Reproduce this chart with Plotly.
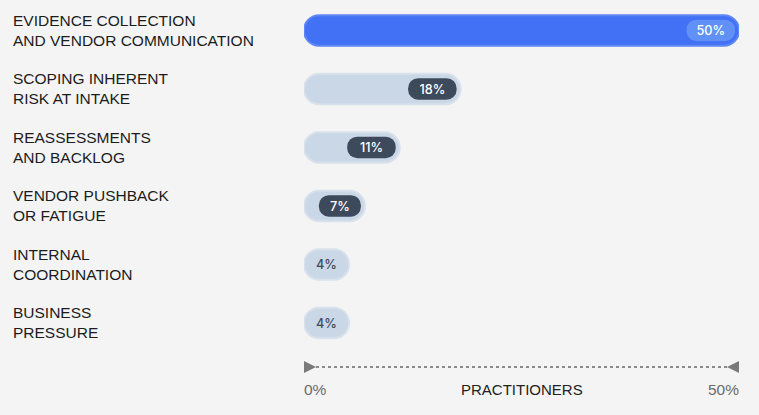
import plotly.graph_objects as go

# ---- data ----
categories = [
    "EVIDENCE COLLECTION\nAND VENDOR COMMUNICATION",
    "SCOPING INHERENT\nRISK AT INTAKE",
    "REASSESSMENTS\nAND BACKLOG",
    "VENDOR PUSHBACK\nOR FATIGUE",
    "INTERNAL\nCOORDINATION",
    "BUSINESS\nPRESSURE",
]
values = [50, 18, 11, 7, 4, 4]
axis_ticks = [0, 50]
axis_tick_labels = ["0%", "50%"]
axis_title = "PRACTITIONERS"

# ---- styling ----
W, H = 759, 415
ML, MR = 304, 20
plot_w = W - ML - MR
x_max = 50
px = x_max / plot_w  # data units per pixel
BG = "#f4f4f4"
BLUE = "#4271f5"
BLUE_LINE = "#5f86f5"
BLUE_BADGE = "#6191f6"
GREY = "#cad7e6"
GREY_LINE = "#d8e1ec"
DARK = "#3d4a5c"
FONT = "Liberation Sans, Arial, sans-serif"
BADGE_FONT = "Inter, sans-serif"

n = len(categories)
ypos = list(range(n))
labels = [f"{v}%" for v in values]

min_len = 45 * px
disp = [max(v, min_len) for v in values]

bar_colors = [BLUE if i == 0 else GREY for i in range(n)]
line_colors = [BLUE_LINE if i == 0 else GREY_LINE for i in range(n)]

badge_base, badge_len, badge_text, badge_col = [], [], [], []
plain_text = []
for i, (d, lab) in enumerate(zip(disp, labels)):
    bw = (29 + 6.5 * len(lab)) * px
    if d >= bw + 12 * px:
        right = d - 4 * px
        badge_base.append(right - bw)
        badge_len.append(bw)
        badge_text.append(lab)
        badge_col.append(BLUE_BADGE if i == 0 else DARK)
        plain_text.append("")
    else:
        badge_base.append(0)
        badge_len.append(0)
        badge_text.append("")
        badge_col.append("rgba(0,0,0,0)")
        plain_text.append(lab)

fig = go.Figure()
fig.add_trace(go.Bar(
    y=ypos, x=disp, base=0, orientation="h", width=0.52,
    marker=dict(color=bar_colors, cornerradius=15,
                line=dict(color=line_colors, width=2)),
    text=plain_text, textposition="inside", insidetextanchor="middle",
    textfont=dict(color=DARK, size=13, family=BADGE_FONT, weight=500),
    textangle=0, hoverinfo="skip", showlegend=False,
))
fig.add_trace(go.Bar(
    y=ypos, x=badge_len, base=badge_base, orientation="h", width=0.37,
    marker=dict(color=badge_col, cornerradius=11, line=dict(width=0)),
    text=badge_text, textposition="inside", insidetextanchor="middle",
    textfont=dict(color="white", size=13, family=BADGE_FONT, weight=500),
    textangle=0, hoverinfo="skip", showlegend=False,
))

# axis line (dotted) with arrow heads
axis_y = 5.752
fig.add_trace(go.Scatter(
    x=[axis_ticks[0], axis_ticks[-1]], y=[axis_y, axis_y], mode="lines",
    line=dict(color="#8a8a8a", width=2, dash="dot"),
    hoverinfo="skip", showlegend=False, cliponaxis=False,
))
tri = 12
fig.add_shape(type="path", xref="x", yref="y", xsizemode="pixel", ysizemode="pixel",
              xanchor=axis_ticks[0], yanchor=axis_y,
              path=f"M 0 {-tri/2} L {tri} 0 L 0 {tri/2} Z",
              fillcolor="#7a7a7a", line=dict(width=0))
fig.add_shape(type="path", xref="x", yref="y", xsizemode="pixel", ysizemode="pixel",
              xanchor=axis_ticks[-1], yanchor=axis_y,
              path=f"M 0 {-tri/2} L {-tri} 0 L 0 {tri/2} Z",
              fillcolor="#7a7a7a", line=dict(width=0))

ann = []
for i, c in enumerate(categories):
    ann.append(dict(
        text=c.replace("\n", "<br>"), xref="paper", yref="y",
        x=(13 - ML) / plot_w, y=i, xanchor="left", yanchor="middle",
        align="left", showarrow=False, xshift=-2,
        font=dict(family=FONT, size=15.5, color="#1c1c1c"),
    ))
label_y = 6.145
ann.append(dict(text=axis_tick_labels[0], xref="x", yref="y", x=axis_ticks[0], y=label_y,
                xanchor="left", yanchor="middle", showarrow=False, xshift=-2,
                font=dict(family=FONT, size=15.5, color="#6b6b6b")))
ann.append(dict(text=axis_tick_labels[-1], xref="x", yref="y", x=axis_ticks[-1], y=label_y,
                xanchor="right", yanchor="middle", showarrow=False, xshift=2,
                font=dict(family=FONT, size=15.5, color="#6b6b6b")))
ann.append(dict(text=axis_title, xref="x", yref="y", x=(axis_ticks[0] + axis_ticks[-1]) / 2,
                y=label_y, xanchor="center", yanchor="middle", showarrow=False,
                font=dict(family=FONT, size=15, color="#222222")))

fig.update_layout(
    width=W, height=H,
    margin=dict(l=ML, r=MR, t=0, b=0),
    paper_bgcolor=BG, plot_bgcolor=BG,
    barmode="overlay",
    xaxis=dict(range=[0, x_max], visible=False, fixedrange=True),
    yaxis=dict(range=[6.573, -0.521], visible=False, fixedrange=True),
    annotations=ann,
    uniformtext=dict(minsize=8, mode="show"),
)

fig.write_html(
    "out.html",
    config={"displayModeBar": False},
    post_script="document.body.style.margin='0';document.body.style.padding='0';"
                "document.body.style.overflow='hidden';",
)
